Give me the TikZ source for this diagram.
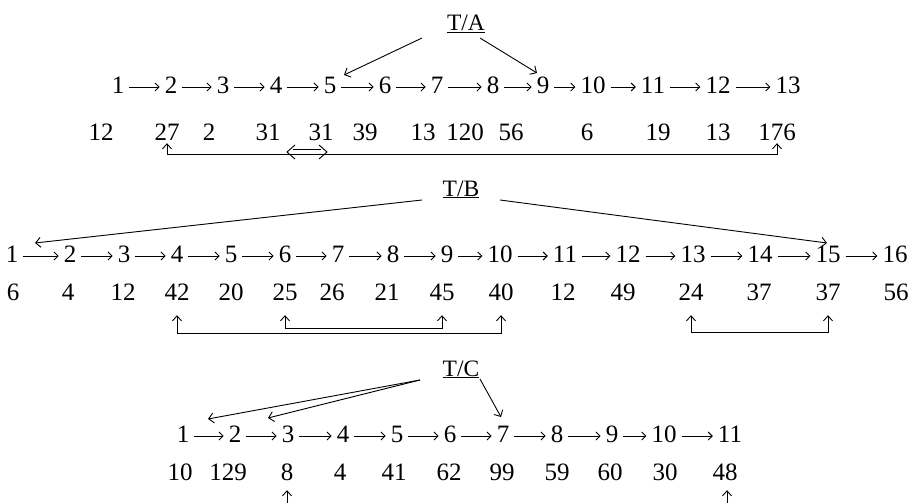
\documentclass[tikz,border=0pt]{standalone}
\usepackage{fontspec}
\setmainfont{Liberation Serif}
\usetikzlibrary{arrows.meta}
\begin{document}
\begin{tikzpicture}[x=1pt,y=-1pt,
  num/.style={anchor=base, inner xsep=5pt, inner ysep=0pt, text height=12pt, text depth=0pt, font=\fontsize{25}{29}\selectfont},
  val/.style={anchor=base, inner sep=0pt, text height=17pt, text depth=0pt, font=\fontsize{25}{29}\selectfont},
  lbl/.style={anchor=base, inner sep=0pt, font=\fontsize{23.5}{27}\selectfont},
  link/.style={line width=0.9pt, -{Straight Barb[length=4pt,width=8pt]}},
  pointer/.style={line width=0.9pt, -{Straight Barb[length=5pt,width=10pt]}},
  bracket/.style={line width=0.9pt, {Straight Barb[length=5pt,width=9pt]}-{Straight Barb[length=5pt,width=9pt]}},
  foot/.style={line width=0.9pt, -{Straight Barb[length=5pt,width=9pt]}},
  dbl/.style={line width=0.9pt, line join=miter},
]
\useasboundingbox (0,0) rectangle (911,503);

% ---------- T/A ----------
\node[lbl] (tA) at (466,31) {\underline{T/A}};
\foreach \x [count=\i] in {118,171,223,276,330,385,437,493,543,593,653,718,788}
  \node[num] (a\i) at (\x,93) {\i};
\foreach \i [evaluate=\i as \j using int(\i+1)] in {1,...,12}
  \draw[link] (a\i) -- (a\j);
\foreach \x/\t [count=\i] in {101/12,167/27,209/2,268/31,321/31,365/39,423/13,465/120,511/56,587/6,658/19,718/13,777/176}
  \node[val] (va\i) at (\x,140) {\t};
\draw[bracket] ([yshift=-3pt]va2.south) -- ++(0,11) -| ([yshift=-3pt]va13.south);
% double-headed double arrow on the bracket line
\draw[dbl] (293,149.5) -- (321,149.5);
\draw[dbl] (293,154.5) -- (321,154.5);
\draw[dbl] (295,145) -- (287,152) -- (295,159);
\draw[dbl] (319,145) -- (327,152) -- (319,159);
\draw[pointer] ([shift={(-44,7)}]tA.base) -- ([shift={(14,-18)}]a5.base);
\draw[pointer] ([shift={(14,7)}]tA.base) -- ([shift={(-6,-20)}]a9.base);

% ---------- T/B ----------
\node[lbl] (tB) at (461,196) {\underline{T/B}};
\foreach \x [count=\i] in {12,70,124,177,231,285,338,393,447,500,565,628,693,760,828,895}
  \node[num] (b\i) at (\x,262) {\i};
\foreach \i [evaluate=\i as \j using int(\i+1)] in {1,...,15}
  \draw[link] (b\i) -- (b\j);
\foreach \x/\t [count=\i] in {13/6,68/4,123/12,177/42,231/20,285/25,332/26,387/21,442/45,501/40,563/12,623/49,691/24,759/37,828/37,896/56}
  \node[val] (vb\i) at (\x,300) {\t};
\draw[bracket] ([yshift=-15pt]vb4.south) -- ++(0,18) -| ([yshift=-15pt]vb10.south);
\draw[bracket] ([yshift=-15pt]vb6.south) -- ++(0,13) -| ([yshift=-15pt]vb9.south);
\draw[bracket] ([yshift=-15pt]vb13.south) -- ++(0,17) -| ([yshift=-15pt]vb15.south);
\draw[pointer] ([shift={(-39,4)}]tB.base) -- ([shift={(23,-19)}]b1.base);
\draw[pointer] ([shift={(39,4)}]tB.base) -- ([shift={(-1,-19)}]b15.base);

% ---------- T/C ----------
\node[lbl] (tC) at (461,376) {\underline{T/C}};
\foreach \x [count=\i] in {183,235,288,343,397,450,503,557,612,664,730}
  \node[num] (c\i) at (\x,442) {\i};
\foreach \i [evaluate=\i as \j using int(\i+1)] in {1,...,10}
  \draw[link] (c\i) -- (c\j);
\foreach \x/\t [count=\i] in {180/10,228/129,287/8,340/4,394/41,449/62,502/99,557/59,610/60,665/30,725/48}
  \node[val] (vc\i) at (\x,480) {\t};
\coordinate (f1) at (287,503);
\coordinate (f2) at (727,503);
\draw[foot] (f1) -- ([yshift=-10pt]vc3.south);
\draw[foot] (f2) -- ([xshift=2pt,yshift=-10pt]vc11.south);
\draw[pointer] ([shift={(-41,4)}]tC.base) -- ([shift={(-27,-23)}]c2.base);
\draw[pointer] ([shift={(-41,4)}]tC.base) -- ([shift={(-20,-24)}]c3.base);
\draw[pointer] ([shift={(19,3)}]tC.base) -- ([shift={(-2,-25)}]c7.base);
\end{tikzpicture}
\end{document}
